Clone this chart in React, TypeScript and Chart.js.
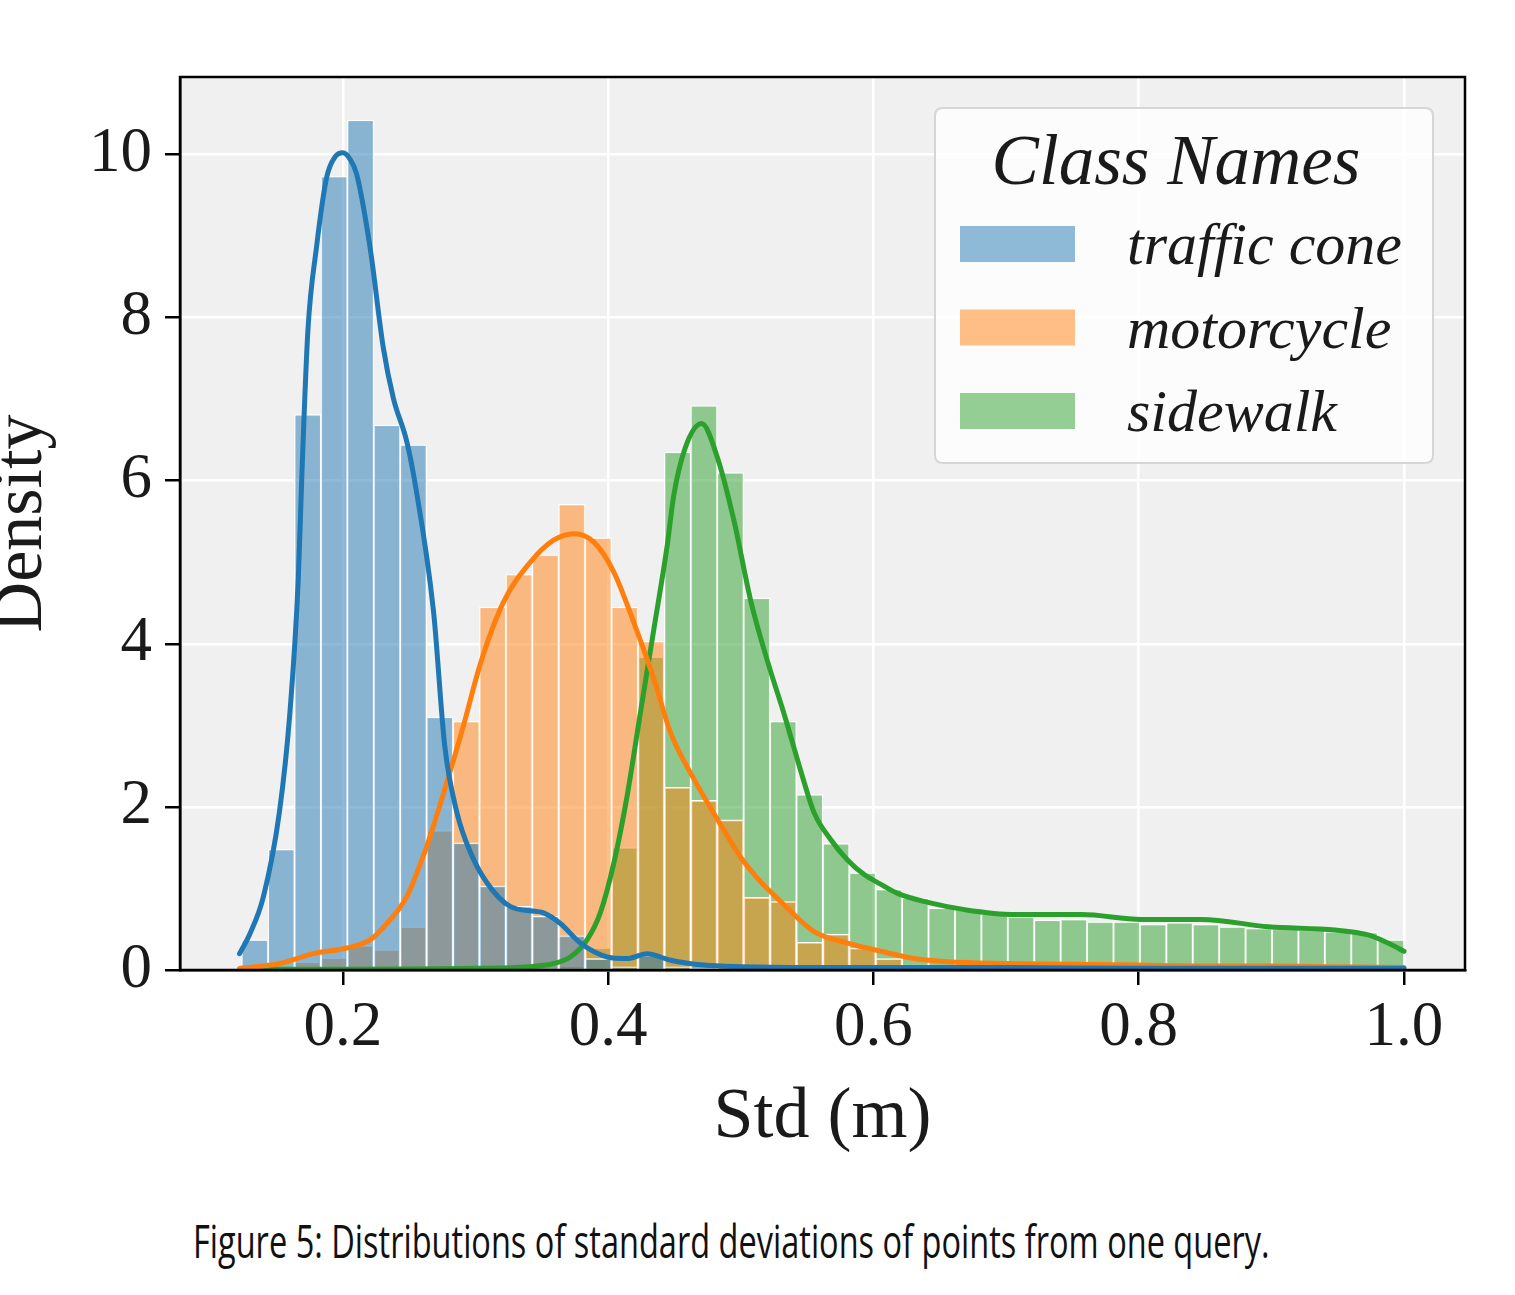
import React, { useEffect, useRef } from "react";
import { Chart, registerables } from "chart.js";

Chart.register(...registerables);

// Histogram bins (common bins for all classes)
const binStart = 0.1236;
const binWidth = 0.01992;

const classNames = ["traffic cone", "motorcycle", "sidewalk"];
const classColors = ["31,119,180", "255,127,14", "44,160,44"];

// Histogram densities per bin
const trafficCone = [
  0.37, 1.48, 6.81, 9.73, 10.42, 6.68, 6.44, 3.1, 1.56, 1.03,
  0.78, 0.66, 0.42, 0.14, 0.04, 0.18, 0.04, 0.02, 0.01, 0.01,
  0.01, 0.01, 0.01, 0.01, 0, 0, 0, 0, 0, 0,
  0, 0, 0, 0, 0, 0, 0, 0, 0, 0,
  0, 0, 0, 0.01,
];
const motorcycle = [
  0.02, 0.05, 0.1, 0.15, 0.3, 0.25, 0.53, 1.71, 3.05, 4.45,
  4.85, 5.09, 5.71, 5.3, 4.45, 4.03, 2.24, 2.08, 1.84, 0.89,
  0.84, 0.34, 0.44, 0.27, 0.14, 0.06, 0.05, 0.04, 0.03, 0.03,
  0.02, 0.02, 0.02, 0.02, 0.05, 0.02, 0.02, 0.02, 0.01, 0.01,
  0.01, 0.01, 0.01, 0.01,
];
const sidewalk = [
  0, 0, 0, 0, 0, 0, 0, 0, 0, 0,
  0.01, 0.02, 0.05, 0.27, 1.5, 3.84, 6.35, 6.92, 6.1, 4.56,
  3.05, 2.15, 1.55, 1.19, 0.99, 0.88, 0.76, 0.74, 0.69, 0.65,
  0.61, 0.62, 0.59, 0.59, 0.56, 0.58, 0.56, 0.53, 0.51, 0.5,
  0.49, 0.47, 0.46, 0.37,
];

// KDE curves
const coneKdeX = [
  0.122, 0.13, 0.14, 0.152, 0.16, 0.1663, 0.1689, 0.1735, 0.18, 0.1877,
  0.194, 0.2, 0.205, 0.2103, 0.2204, 0.2304, 0.238, 0.2481, 0.254, 0.2683,
  0.2767, 0.2859, 0.2959, 0.3085, 0.326, 0.345, 0.3513, 0.3639, 0.379, 0.3992,
  0.4142, 0.4293, 0.447, 0.472, 0.5, 0.55, 0.6, 0.7, 0.8, 0.9, 1.0,
];
const coneKdeY = [
  0.2, 0.45, 0.9, 1.93, 3.16, 4.8, 6.03, 7.83, 8.86, 9.72,
  9.97, 10.02, 9.95, 9.76, 8.86, 7.63, 7.01, 6.48, 6.0, 4.39,
  2.75, 1.93, 1.45, 1.07, 0.78, 0.72, 0.7, 0.57, 0.33, 0.16,
  0.14, 0.2, 0.12, 0.06, 0.04, 0.03, 0.03, 0.03, 0.02, 0.02, 0.02,
];
const motoKdeX = [
  0.122, 0.1524, 0.1776, 0.2028, 0.2204, 0.233, 0.2481, 0.2632, 0.2783, 0.2909,
  0.3035, 0.321, 0.3412, 0.3588, 0.374, 0.389, 0.4042, 0.4193, 0.4344, 0.447,
  0.4646, 0.4822, 0.5, 0.515, 0.53, 0.5552, 0.5804, 0.6056, 0.6307, 0.6559,
  0.7, 0.75, 0.8, 0.85, 0.9, 0.95, 1.0,
];
const motoKdeY = [
  0.02, 0.08, 0.2, 0.27, 0.37, 0.57, 0.9, 1.52, 2.3, 3.0,
  3.75, 4.51, 5.0, 5.27, 5.35, 5.25, 4.88, 4.26, 3.57, 2.91,
  2.34, 1.85, 1.38, 1.08, 0.84, 0.47, 0.33, 0.23, 0.14, 0.1,
  0.08, 0.07, 0.06, 0.05, 0.05, 0.04, 0.03,
];
const walkKdeX = [
  0.122, 0.2, 0.3, 0.34, 0.359, 0.3714, 0.384, 0.394, 0.4042, 0.4142,
  0.4243, 0.4344, 0.4445, 0.4494, 0.458, 0.4704, 0.482, 0.4948, 0.5074, 0.52,
  0.5326, 0.545, 0.5552, 0.5677, 0.5804, 0.593, 0.6056, 0.6181, 0.6435, 0.6687,
  0.7064, 0.7568, 0.802, 0.8473, 0.8977, 0.948, 0.973, 0.988, 1.0,
];
const walkKdeY = [
  0.01, 0.01, 0.02, 0.04, 0.08, 0.16, 0.37, 0.7, 1.31, 2.13,
  3.16, 4.18, 5.21, 5.82, 6.4, 6.7, 6.3, 5.51, 4.53, 3.79,
  3.14, 2.45, 1.93, 1.6, 1.35, 1.17, 1.05, 0.94, 0.82, 0.74,
  0.68, 0.68, 0.62, 0.62, 0.53, 0.49, 0.43, 0.33, 0.23,
];

const xTicks = [0.2, 0.4, 0.6, 0.8, 1.0];
const yTicks = [0, 2, 4, 6, 8, 10];

const SERIF = "'Liberation Serif', 'DejaVu Serif', serif";

export default function App() {
  const canvasRef = useRef<HTMLCanvasElement>(null);

  useEffect(() => {
    const canvas = canvasRef.current;
    if (!canvas) return;

    const centers = trafficCone.map((_, i) => binStart + binWidth * (i + 0.5));
    const barSeries = [trafficCone, motorcycle, sidewalk];
    const kdeSeries = [
      [coneKdeX, coneKdeY],
      [motoKdeX, motoKdeY],
      [walkKdeX, walkKdeY],
    ];

    const datasets: any[] = [];
    barSeries.forEach((vals, i) => {
      datasets.push({
        type: "bar",
        label: classNames[i],
        data: vals.map((v, j) => ({ x: centers[j], y: v })),
        backgroundColor: `rgba(${classColors[i]},0.5)`,
        borderColor: "#ffffff",
        borderWidth: 1.2,
        grouped: false,
        barPercentage: 1,
        categoryPercentage: 1,
        order: 3 + i,
      });
    });
    kdeSeries.forEach(([xs, ys], i) => {
      datasets.push({
        type: "line",
        label: classNames[i] + " (kde)",
        data: xs.map((x, j) => ({ x, y: ys[j] })),
        borderColor: `rgb(${classColors[i]})`,
        borderWidth: 5,
        pointRadius: 0,
        fill: false,
        cubicInterpolationMode: "monotone",
        borderCapStyle: "round",
        order: i,
      });
    });

    const bgPlugin = {
      id: "axesBg",
      beforeDraw(chart: any) {
        const { ctx, chartArea: a } = chart;
        ctx.save();
        ctx.fillStyle = "#f0f0f0";
        ctx.fillRect(a.left, a.top, a.right - a.left, a.bottom - a.top);
        ctx.restore();
      },
    };

    const framePlugin = {
      id: "frameLegend",
      afterDraw(chart: any) {
        const { ctx, chartArea: a } = chart;
        ctx.save();
        ctx.strokeStyle = "#000";
        ctx.lineWidth = 2.5;
        ctx.strokeRect(a.left, a.top, a.right - a.left, a.bottom - a.top);

        // legend box
        const bx = a.right - 530;
        const by = a.top + 31;
        const bw = 498;
        const bh = 355;
        const r = 8;
        ctx.beginPath();
        ctx.moveTo(bx + r, by);
        ctx.lineTo(bx + bw - r, by);
        ctx.quadraticCurveTo(bx + bw, by, bx + bw, by + r);
        ctx.lineTo(bx + bw, by + bh - r);
        ctx.quadraticCurveTo(bx + bw, by + bh, bx + bw - r, by + bh);
        ctx.lineTo(bx + r, by + bh);
        ctx.quadraticCurveTo(bx, by + bh, bx, by + bh - r);
        ctx.lineTo(bx, by + r);
        ctx.quadraticCurveTo(bx, by, bx + r, by);
        ctx.closePath();
        ctx.fillStyle = "rgba(255,255,255,0.8)";
        ctx.fill();
        ctx.strokeStyle = "#d6d6d6";
        ctx.lineWidth = 2;
        ctx.stroke();

        ctx.fillStyle = "#1a1a1a";
        ctx.textBaseline = "alphabetic";
        ctx.textAlign = "center";
        ctx.font = `italic 71px ${SERIF}`;
        ctx.fillText("Class Names", bx + 241, by + 76);

        ctx.textAlign = "left";
        ctx.font = `italic 60px ${SERIF}`;
        classNames.forEach((name, i) => {
          const cy = by + 136 + i * 83.5;
          ctx.fillStyle = `rgba(${classColors[i]},0.5)`;
          ctx.fillRect(bx + 25, cy - 18, 115, 36);
          ctx.fillStyle = "#1a1a1a";
          ctx.fillText(name, bx + 192, cy + 20);
        });
        ctx.restore();
      },
    };

    const chart = new Chart(canvas, {
      type: "bar",
      data: { datasets },
      options: {
        responsive: false,
        animation: false,
        layout: { padding: { left: 0, top: 77, right: 50, bottom: 40 } },
        plugins: {
          legend: { display: false },
          tooltip: { enabled: false },
        },
        scales: {
          x: {
            type: "linear",
            min: 0.0771,
            max: 1.046,
            offset: false,
            afterBuildTicks: (s: any) => {
              s.ticks = xTicks.map((v) => ({ value: v }));
            },
            afterFit: (s: any) => {
              s.height = 190;
            },
            grid: {
              offset: false,
              color: "#ffffff",
              lineWidth: 2.5,
              drawTicks: true,
              tickLength: 15,
              tickColor: "#000",
              tickWidth: 2.5,
            },
            border: { display: true, color: "#000", width: 2.5 },
            ticks: {
              font: { family: SERIF, size: 63 },
              color: "#1a1a1a",
              padding: 6,
              maxRotation: 0,
              autoSkip: false,
              callback: (v: any) => Number(v).toFixed(1),
            },
            title: {
              display: true,
              text: "Std (m)",
              font: { family: SERIF, size: 72, lineHeight: 1 },
              color: "#1a1a1a",
              padding: { top: 0, bottom: 6 },
            },
          },
          y: {
            type: "linear",
            min: 0,
            max: 10.95,
            afterBuildTicks: (s: any) => {
              s.ticks = yTicks.map((v) => ({ value: v }));
            },
            afterFit: (s: any) => {
              s.width = 180;
            },
            grid: {
              color: "#ffffff",
              lineWidth: 2.5,
              drawTicks: true,
              tickLength: 15,
              tickColor: "#000",
              tickWidth: 2.5,
            },
            border: { display: true, color: "#000", width: 2.5 },
            ticks: {
              font: { family: SERIF, size: 63 },
              color: "#1a1a1a",
              padding: 13,
              autoSkip: false,
              callback: (v: any) => String(v),
            },
            title: {
              display: true,
              text: "Density",
              font: { family: SERIF, size: 70, lineHeight: 0.65 },
              color: "#1a1a1a",
              padding: { top: 0, bottom: 0 },
            },
          },
        },
      },
      plugins: [bgPlugin, framePlugin],
    } as any);

    return () => {
      chart.destroy();
    };
  }, []);

  return (
    <div style={{ position: "absolute", left: 0, top: 0, width: 1515, height: 1295, background: "#fff" }}>
      <canvas ref={canvasRef} width={1515} height={1200} style={{ display: "block" }} />
      <div
        style={{
          position: "absolute",
          left: 193,
          top: 1210,
          fontFamily: "'Open Sans', 'Noto Sans', sans-serif",
          fontWeight: 400,
          fontSize: 45,
          lineHeight: "normal",
          color: "#111",
          whiteSpace: "nowrap",
          transform: "scaleX(0.723)",
          transformOrigin: "0 0",
        }}
      >
        Figure 5: Distributions of standard deviations of points from one query.
      </div>
    </div>
  );
}
